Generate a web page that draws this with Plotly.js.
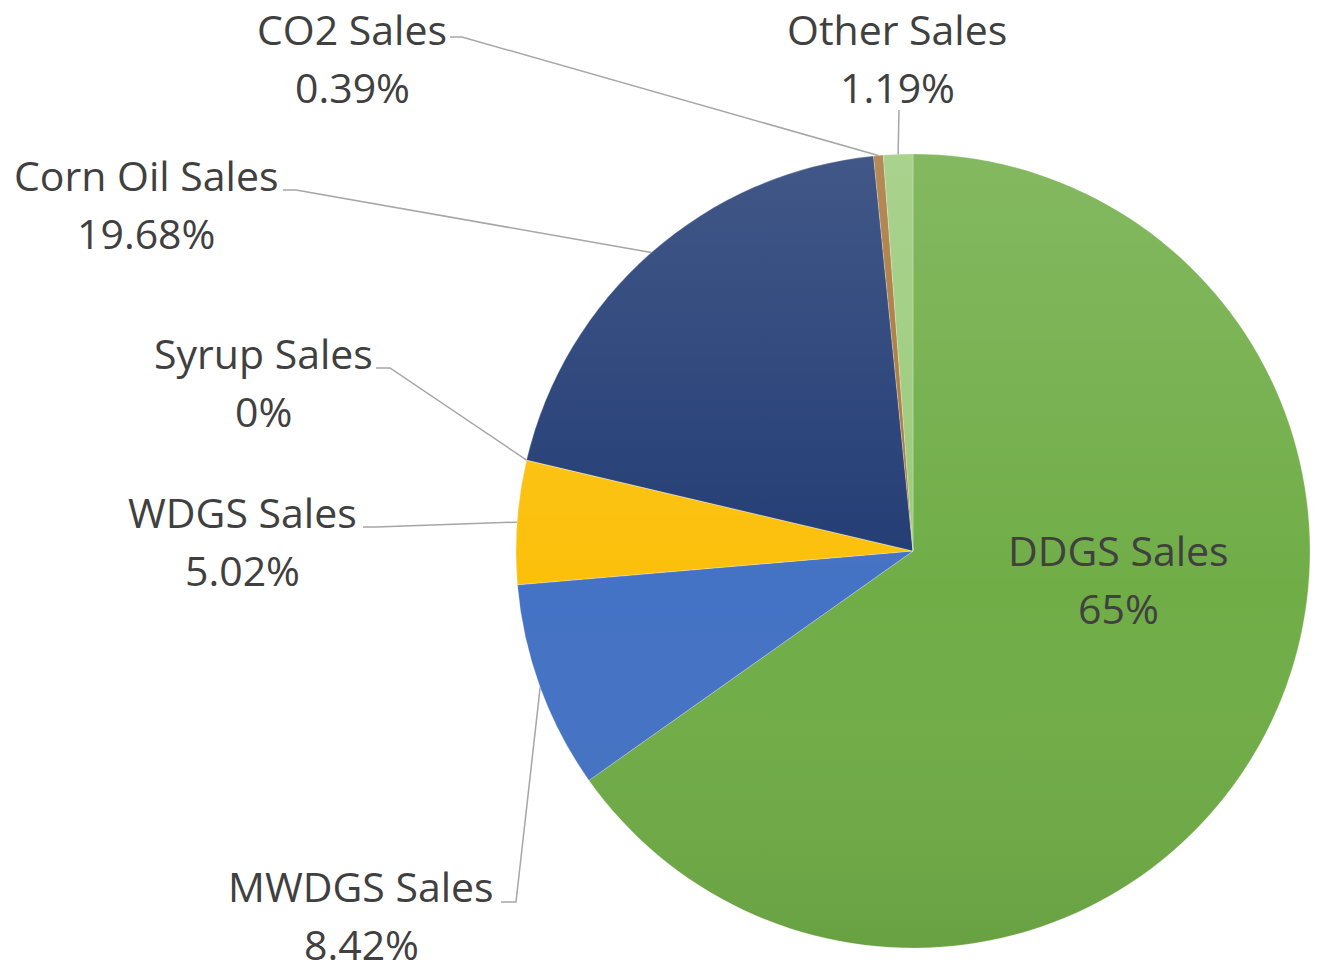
<!DOCTYPE html>
<html>
<head>
<meta charset="utf-8">
<script src="https://cdn.plot.ly/plotly-3.0.1.min.js"></script>
<style>html,body{margin:0;padding:0;background:#fff;}#chart{width:1319px;height:973px;}</style>
</head>
<body>
<div id="chart"></div>
<script>
// ---- data ----
const labels = ['DDGS Sales', 'MWDGS Sales', 'WDGS Sales', 'Syrup Sales', 'Corn Oil Sales', 'CO2 Sales', 'Other Sales'];
const values = [65, 8.42, 5.02, 0, 19.68, 0.39, 1.19];
const pctText = ['65%', '8.42%', '5.02%', '0%', '19.68%', '0.39%', '1.19%'];
const colors = ['#70ad47', '#4472c4', '#fcc00a', '#5a7f3a', '#223c74', '#a9773a', '#9bcb7b'];

// ---- layout geometry (pixels) ----
const W = 1319, H = 973;
const cx = 913, cy = 551, R = 397;
// label block centres and leader elbow points
const labelPlace = [
  {x: 1118, y: 579, inside: true},
  {x: 361, y: 915, s0: [501, 902], s1: [516, 902]},
  {x: 242, y: 541, s0: [363, 527], s1: [376, 527]},
  {x: 263, y: 382, s0: [376, 368], s1: [390, 368]},
  {x: 146, y: 204, s0: [283, 190], s1: [296, 190]},
  {x: 352, y: 58, s0: [450, 37], s1: [462, 37]},
  {x: 897, y: 58, s0: [899, 110], s1: [899, 110]}
];

const px = v => v / W;
const py = v => 1 - v / H;

const total = values.reduce((a, b) => a + b, 0);
const annotations = [];
const shapes = [];
let cum = 0;
const font = {family: 'Open Sans, sans-serif', size: 41, color: '#404040'};
values.forEach((v, i) => {
  const mid = (cum + v / 2) / total * 2 * Math.PI;
  cum += v;
  const ax = cx + R * Math.sin(mid);
  const ay = cy - R * Math.cos(mid);
  const p = labelPlace[i];
  annotations.push({xref: 'paper', yref: 'paper', x: px(p.x), y: py(p.y - 29), text: labels[i],
    showarrow: false, xanchor: 'center', yanchor: 'middle', borderpad: 0, font: font});
  annotations.push({xref: 'paper', yref: 'paper', x: px(p.x), y: py(p.y + 29), text: pctText[i],
    showarrow: false, xanchor: 'center', yanchor: 'middle', borderpad: 0, font: font});
  if (!p.inside) {
    shapes.push({type: 'path', xref: 'paper', yref: 'paper',
      path: 'M' + px(p.s0[0]) + ',' + py(p.s0[1]) + ' L' + px(p.s1[0]) + ',' + py(p.s1[1]) + ' L' + px(ax) + ',' + py(ay),
      line: {color: '#a6a6a6', width: 1.5}});
  }
});

const trace = {
  type: 'pie',
  labels: labels,
  values: values,
  sort: false,
  direction: 'clockwise',
  rotation: 0,
  textinfo: 'none',
  hoverinfo: 'label+percent',
  marker: {colors: colors, line: {color: 'rgba(255,255,255,0.35)', width: 0.7}},
  domain: {x: [px(cx - R), px(cx + R)], y: [py(cy + R), py(cy - R)]},
  showlegend: false
};

// soft top-to-bottom shading over the pie disc
const shadeSvg = '<svg xmlns="http://www.w3.org/2000/svg" width="200" height="200" viewBox="0 0 200 200">' +
  '<defs><linearGradient id="g" x1="0" y1="0" x2="0" y2="1">' +
  '<stop offset="0" stop-color="#ffffff" stop-opacity="0.14"/>' +
  '<stop offset="0.55" stop-color="#ffffff" stop-opacity="0"/>' +
  '<stop offset="1" stop-color="#000000" stop-opacity="0.07"/>' +
  '</linearGradient></defs><circle cx="100" cy="100" r="100" fill="url(#g)"/></svg>';

Plotly.newPlot('chart', [trace], {
  width: W, height: H,
  margin: {l: 0, r: 0, t: 0, b: 0},
  paper_bgcolor: '#ffffff',
  showlegend: false,
  annotations: annotations,
  shapes: shapes,
  images: [{
    source: 'data:image/svg+xml;charset=utf-8,' + encodeURIComponent(shadeSvg),
    xref: 'paper', yref: 'paper',
    x: px(cx - R), y: py(cy - R), sizex: px(2 * R), sizey: 2 * R / H,
    xanchor: 'left', yanchor: 'top', sizing: 'stretch', layer: 'above'
  }]
}, {displayModeBar: false, staticPlot: true});
</script>
</body>
</html>
